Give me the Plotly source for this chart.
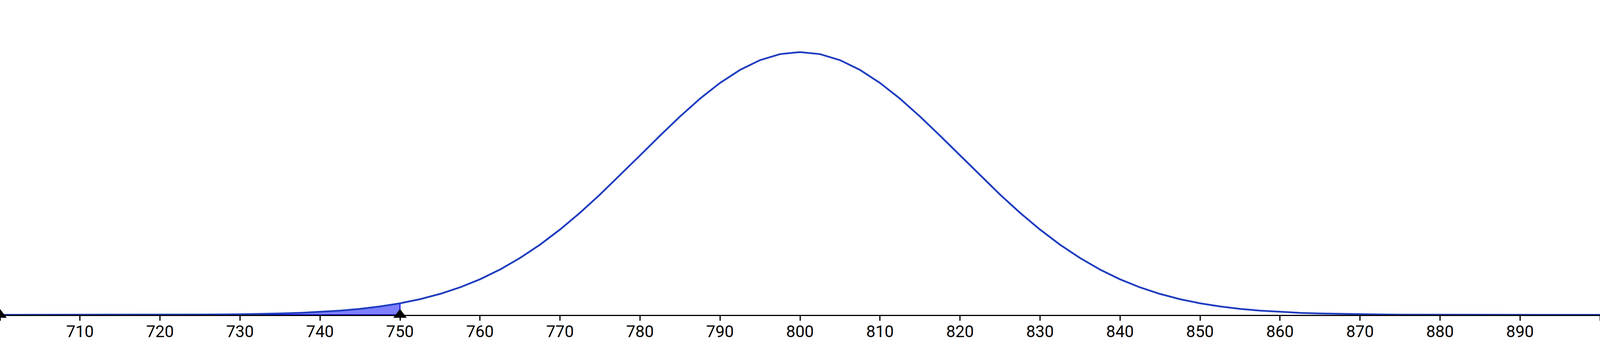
import plotly.graph_objects as go

x_values = [
    700, 702.5, 705, 707.5, 710, 712.5, 715, 717.5, 720, 722.5,
    725, 727.5, 730, 732.5, 735, 737.5, 740, 742.5, 745, 747.5,
    750, 752.5, 755, 757.5, 760, 762.5, 765, 767.5, 770, 772.5,
    775, 777.5, 780, 782.5, 785, 787.5, 790, 792.5, 795, 797.5,
    800, 802.5, 805, 807.5, 810, 812.5, 815, 817.5, 820, 822.5,
    825, 827.5, 830, 832.5, 835, 837.5, 840, 842.5, 845, 847.5,
    850, 852.5, 855, 857.5, 860, 862.5, 865, 867.5, 870, 872.5,
    875, 877.5, 880, 882.5, 885, 887.5, 890, 892.5, 895, 897.5,
    900,
]
density = [
    0.0000001, 0.0000001, 0.0000003, 0.0000005, 0.0000008, 0.0000014, 0.0000024, 0.0000040, 0.0000067, 0.0000110,
    0.0000176, 0.0000279, 0.0000436, 0.0000671, 0.0001014, 0.0001511, 0.0002216, 0.0003198, 0.0004548, 0.0006363,
    0.0008765, 0.0011887, 0.0015870, 0.0020861, 0.0026996, 0.0034393, 0.0043139, 0.0053273, 0.0064758, 0.0077508,
    0.0091323, 0.0105938, 0.0120985, 0.0136027, 0.0150568, 0.0164080, 0.0176033, 0.0185926, 0.0193332, 0.0197918,
    0.0199471, 0.0197918, 0.0193332, 0.0185926, 0.0176033, 0.0164080, 0.0150568, 0.0136027, 0.0120985, 0.0105938,
    0.0091323, 0.0077508, 0.0064758, 0.0053273, 0.0043139, 0.0034393, 0.0026996, 0.0020861, 0.0015870, 0.0011887,
    0.0008765, 0.0006363, 0.0004548, 0.0003198, 0.0002216, 0.0001511, 0.0001014, 0.0000671, 0.0000436, 0.0000279,
    0.0000176, 0.0000110, 0.0000067, 0.0000040, 0.0000024, 0.0000014, 0.0000008, 0.0000005, 0.0000003, 0.0000001,
    0.0000001,
]

# Shaded tail and its end markers
shade_start = 700
shade_end = 750
marker_x = [700, 750]

tick_values = [700, 710, 720, 730, 740, 750, 760, 770, 780, 790, 800,
               810, 820, 830, 840, 850, 860, 870, 880, 890, 900]
tick_labels = ["", "710", "720", "730", "740", "750", "760", "770", "780", "790", "800",
               "810", "820", "830", "840", "850", "860", "870", "880", "890", ""]

fig = go.Figure()

# Shaded area under the curve
shade_x = [x for x in x_values if shade_start <= x <= shade_end]
shade_y = [y for x, y in zip(x_values, density) if shade_start <= x <= shade_end]
fig.add_trace(go.Scatter(
    x=shade_x + [shade_end, shade_start],
    y=shade_y + [0, 0],
    mode='lines',
    fill='toself',
    fillcolor='rgba(0,0,255,0.5)',
    line=dict(color='#0000ff', width=2.5),
    cliponaxis=False,
    hoverinfo='skip'
))

# Density curve
fig.add_trace(go.Scatter(
    x=x_values,
    y=density,
    mode='lines',
    line=dict(color='#1f3dbf', width=4.5),
    cliponaxis=False
))

# Triangles on the axis
fig.add_trace(go.Scatter(
    x=marker_x,
    y=[0] * len(marker_x),
    mode='markers',
    marker=dict(symbol='triangle-up', size=30, color='black'),
    cliponaxis=False
))

fig.update_layout(
    showlegend=False,
    plot_bgcolor='white',
    paper_bgcolor='white',
    margin=dict(l=0, r=0, t=0, b=95),
    font=dict(family="Roboto", size=42, color='black'),
    xaxis=dict(
        range=[700, 900],
        tickvals=tick_values,
        ticktext=tick_labels,
        ticks='outside',
        ticklen=12,
        tickwidth=2.5,
        tickcolor='black',
        ticklabelstandoff=-8,
        showline=True,
        linecolor='black',
        linewidth=2.5,
        showgrid=False,
        zeroline=False,
        layer='below traces'
    ),
    yaxis=dict(
        range=[0, 0.0239],
        visible=False
    )
)

# drop the page margin so the chart fills the window exactly
post = ("document.body.style.margin='0';"
        "document.body.style.overflow='hidden';"
        "Plotly.Plots.resize(document.getElementById('{plot_id}'));")
fig.write_html("out.html", default_width='100vw', default_height='100vh',
               config={'displayModeBar': False}, post_script=post)
